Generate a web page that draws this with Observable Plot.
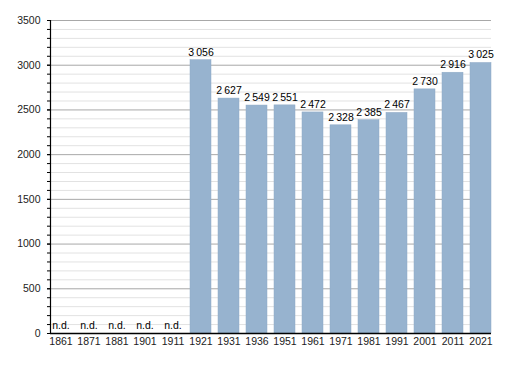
<!DOCTYPE html>
<html>
<head>
<meta charset="utf-8">
<script src="https://cdn.jsdelivr.net/npm/d3@7"></script>
<script src="https://cdn.jsdelivr.net/npm/@observablehq/plot@0.6"></script>
<style>
html,body{margin:0;padding:0;background:#fff;}
</style>
</head>
<body>
<div id="chart"></div>
<script>
const years = ["1861","1871","1881","1901","1911","1921","1931","1936","1951","1961","1971","1981","1991","2001","2011","2021"];
const population = [null,null,null,null,null,3056,2627,2549,2551,2472,2328,2385,2467,2730,2916,3025];
const majorTicks = [0,500,1000,1500,2000,2500,3000,3500];
const minorTicks = d3.range(0, 3501, 100);
const noDataLabel = "n.d.";

const data = years.map((y, i) => ({year: y, value: population[i]}));
const present = data.filter(d => d.value != null);
const missing = data.filter(d => d.value == null);
const fmt = v => d3.format(",")(v).replace(/,/g, "\u2009");

const chart = Plot.plot({
  width: 520,
  height: 373,
  marginTop: 20,
  marginBottom: 40,
  marginLeft: 50,
  marginRight: 29,
  style: {fontFamily: "'Liberation Sans', Arial, sans-serif", fontSize: "10.5px", color: "#000", background: "#fff"},
  x: {domain: years, paddingInner: 0.25, paddingOuter: 0, label: null},
  y: {domain: [0, 3500], label: null},
  marks: [
    Plot.ruleY(minorTicks.filter(t => t % 500 !== 0), {stroke: "#e2e2e2", strokeWidth: 1}),
    Plot.ruleY(majorTicks.filter(t => t > 0), {stroke: "#a8a8a8", strokeWidth: 1}),
    Plot.barY(present, {x: "year", y: "value", fill: "#97b3cf", stroke: "#8faac6", strokeWidth: 0.5}),
    Plot.text(present, {x: "year", y: "value", text: d => fmt(d.value), dy: -8, fontSize: 10.5, fill: "#000"}),
    Plot.text(missing, {x: "year", y: 0, text: () => noDataLabel, dy: -8, fontSize: 10.5, fill: "#000"}),
    Plot.axisY({ticks: minorTicks, tickSize: 3, tickFormat: () => "", stroke: "#000"}),
    Plot.axisY({ticks: majorTicks, tickSize: 3, tickPadding: 7, tickFormat: d => String(d), fontSize: 10.5, fill: "#222"}),
    Plot.axisX({tickSize: 0, tickPadding: 4, fontSize: 10.5, fill: "#222"}),
    Plot.ruleY([0], {stroke: "#000", strokeWidth: 1.5}),
    Plot.frame({anchor: "left", stroke: "#000", strokeWidth: 1.2})
  ]
});
document.getElementById("chart").appendChild(chart);
</script>
</body>
</html>
